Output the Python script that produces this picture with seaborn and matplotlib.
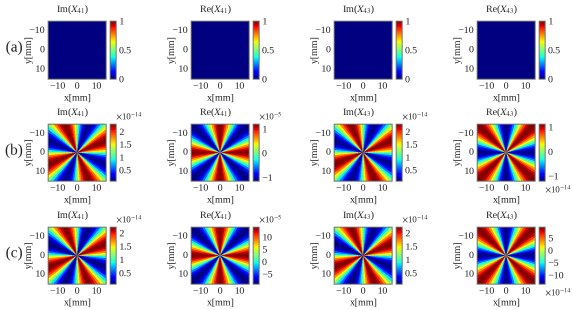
import matplotlib
matplotlib.use('Agg')
import matplotlib.pyplot as plt
import numpy as np
import seaborn as sns

# field values by direction, clockwise from the top of the panel, one every 3.75 deg (pattern repeats every 90 deg)
zero_a = [0.0] * 24
im_b = [1.2, 0.88, 0.6, 0.38, 0.22, 0.12, 0.1, 0.12, 0.22, 0.38, 0.6, 0.88,
        1.2, 1.52, 1.8, 2.02, 2.18, 2.27, 2.3, 2.27, 2.18, 2.02, 1.8, 1.52]
re41_b = [1.2, 1.16, 1.05, 0.86, 0.6, 0.32, 0.02, -0.28, -0.56, -0.81, -1.0, -1.11,
          -1.15, -1.11, -1.0, -0.81, -0.56, -0.28, 0.02, 0.32, 0.6, 0.86, 1.05, 1.16]
re43_b = [-1.2, -1.16, -1.05, -0.86, -0.62, -0.34, -0.04, 0.26, 0.54, 0.78, 0.97, 1.09,
          1.12, 1.09, 0.97, 0.78, 0.54, 0.26, -0.04, -0.34, -0.62, -0.86, -1.05, -1.16]
im_c = [1.15, 0.84, 0.58, 0.37, 0.21, 0.11, 0.09, 0.11, 0.21, 0.37, 0.58, 0.84,
        1.15, 1.46, 1.72, 1.93, 2.09, 2.19, 2.22, 2.19, 2.09, 1.93, 1.72, 1.46]
re41_c = [14, 13.6, 12.5, 10.7, 8.2, 5.5, 2.5, -0.5, -3.3, -5.7, -7.5, -8.7,
          -9, -8.7, -7.5, -5.7, -3.3, -0.5, 2.5, 5.5, 8.2, 10.7, 12.5, 13.6]
re43_c = [-13.6, -13.2, -12, -10.2, -7.8, -5, -2, 1, 3.8, 6.2, 8, 9.2,
          9.5, 9.2, 8, 6.2, 3.8, 1, -2, -5, -7.8, -10.2, -12, -13.2]

row_labels = ['(a)', '(b)', '(c)']
titles = ['Im($X_{41}$)', 'Re($X_{41}$)', 'Im($X_{43}$)', 'Re($X_{43}$)']
profiles = [[zero_a, zero_a, zero_a, zero_a],
            [im_b, re41_b, im_b, re43_b],
            [im_c, re41_c, im_c, re43_c]]
limits = [[(0, 1)] * 4,
          [(0.07, 2.3), (-1.15, 1.2), (0.07, 2.3), (-1.2, 1.12)],
          [(0.09, 2.22), (-9, 14), (0.09, 2.22), (-13.6, 9.5)]]
cbar_ticks = [[[0, 0.5, 1]] * 4,
              [[0.5, 1, 1.5, 2], [-1, 0, 1], [0.5, 1, 1.5, 2], [-1, 0, 1]],
              [[0.5, 1, 1.5, 2], [-5, 0, 5, 10], [0.5, 1, 1.5, 2], [-10, -5, 0, 5]]]
exponents = [[None] * 4,
             ['14', '5', '14', '14'],
             ['14', '5', '14', '14']]
axis_ticks = [-10, 0, 10]

W, H = 572, 310
col_left = [48, 191, 334, 477]
row_top = [21, 124, 227]
row_bottom = [79, 181, 284]
PANEL_W = 58
TEXT = '#222222'
EDGE = '#707070'
FS = 7.2

sns.set_theme(style='white')
plt.rcParams['font.family'] = ['Liberation Serif', 'DejaVu Serif']
plt.rcParams['mathtext.fontset'] = 'stix'
plt.rcParams['axes.unicode_minus'] = True


def px_axes(fig, left, top, right, bottom):
    return fig.add_axes([left / W, 1 - bottom / H, (right - left) / W, (bottom - top) / H])


def px_text(fig, x, y, s, size=FS, ha='center'):
    fig.text(x / W, 1 - y / H, s, fontsize=size, ha=ha, va='center', color=TEXT)


def minus(v):
    return f'{v:g}'.replace('-', '\u2212')


# look each cell up in the direction list
def panel_grid(profile, n=174):
    centres = np.arange(n) - n / 2 + 0.5
    dx, dy = np.meshgrid(centres, centres)
    angle = np.degrees(np.arctan2(dx, -dy)) % 360
    idx = np.round(angle / 3.75).astype(int) % len(profile)
    return np.array(profile, dtype=float)[idx]


fig = plt.figure(figsize=(W / 100, H / 100), dpi=100)
fig.patch.set_facecolor('white')

for r in range(3):
    top, bottom = row_top[r], row_bottom[r]
    px_text(fig, 14, (top + bottom) / 2 - 2, row_labels[r], size=11)
    for c in range(4):
        left = col_left[c]
        ax = px_axes(fig, left, top, left + PANEL_W, bottom)
        cax = px_axes(fig, left + PANEL_W + 4, top, left + PANEL_W + 10, bottom)
        grid = panel_grid(profiles[r][c])
        n = grid.shape[0]
        vmin, vmax = limits[r][c]
        sns.heatmap(grid, ax=ax, cbar_ax=cax, cmap='jet', vmin=vmin, vmax=vmax,
                    square=False, xticklabels=False, yticklabels=False, rasterized=True)

        pos = [(v + 15) / 30 * n for v in axis_ticks]
        ax.set_xticks(pos)
        ax.set_xticklabels([minus(v) for v in axis_ticks], rotation=0)
        ax.set_yticks(pos)
        ax.set_yticklabels([minus(v) for v in axis_ticks], rotation=0, va='center')
        ax.tick_params(length=0, pad=2.2, labelsize=FS, colors=TEXT)
        for spine in ax.spines.values():
            spine.set_visible(True)
            spine.set_color(EDGE)
            spine.set_linewidth(0.7)

        cax.set_yticks(cbar_ticks[r][c])
        cax.set_yticklabels([minus(v) for v in cbar_ticks[r][c]])
        cax.tick_params(length=0, pad=2.2, labelsize=FS, colors=TEXT)
        for spine in cax.spines.values():
            spine.set_visible(True)
            spine.set_color(EDGE)
            spine.set_linewidth(0.6)

        px_text(fig, left + 24.5, top - 11.5, titles[c])
        px_text(fig, left + 29.5, bottom + 19, 'x[mm]')
        fig.text((left - 19) / W, 1 - (top + bottom) / 2 / H, 'y[mm]', fontsize=FS,
                 rotation=90, ha='center', va='center', color=TEXT)

        exp = exponents[r][c]
        if exp is not None:
            label = f'$\\times$10$^{{-{exp}}}$'
            if c == 3:
                px_text(fig, left + 68, bottom + 9, label, size=6.4, ha='left')
            else:
                px_text(fig, left + 68, top - 7, label, size=6.4, ha='left')

# draw at 3x then average down, the reference is a soft downscaled image
fig.savefig('out.png', dpi=300)
big = plt.imread('out.png')[:, :, :3]
small = big[:H * 3, :W * 3].reshape(H, 3, W, 3, 3).mean(axis=(1, 3))
plt.imsave('out.png', small)
